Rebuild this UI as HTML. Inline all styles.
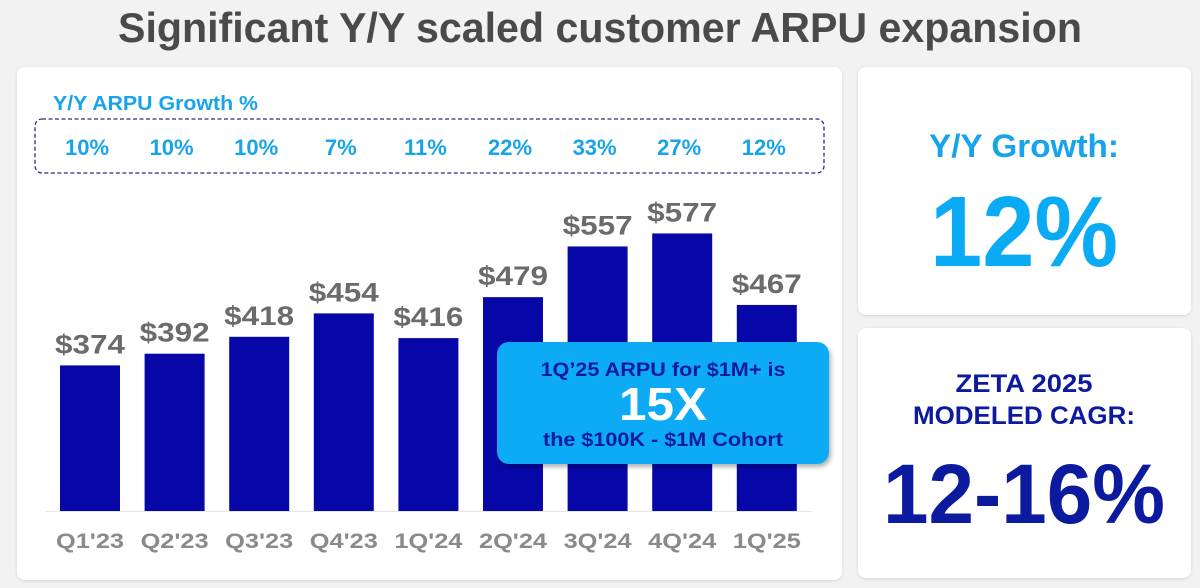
<!DOCTYPE html>
<html><head><meta charset="utf-8"><style>
html,body{margin:0;padding:0;background:#f2f2f2;}
svg{display:block;font-family:"Liberation Sans",sans-serif;font-weight:bold;}
</style></head><body>
<svg width="1200" height="588" viewBox="0 0 1200 588">
<defs>
<filter id="sh" x="-10%" y="-10%" width="130%" height="140%"><feDropShadow dx="2" dy="3" stdDeviation="2" flood-color="#000" flood-opacity="0.3"/></filter>
<filter id="cs" x="-5%" y="-5%" width="110%" height="110%"><feDropShadow dx="0" dy="1" stdDeviation="1.5" flood-color="#000" flood-opacity="0.12"/></filter>
</defs>
<rect width="1200" height="588" fill="#f2f2f2"/>
<text x="600" y="42" text-anchor="middle" font-size="42" fill="#4a4a4a" textLength="964" lengthAdjust="spacingAndGlyphs">Significant Y/Y scaled customer ARPU expansion</text>
<rect x="17" y="67" width="825" height="513" rx="8" fill="#fff" filter="url(#cs)"/>
<rect x="858" y="67" width="333" height="248" rx="8" fill="#fff" filter="url(#cs)"/>
<rect x="858" y="328" width="333" height="250" rx="8" fill="#fff" filter="url(#cs)"/>
<text x="53" y="110" font-size="20" fill="#18a4ea" textLength="205" lengthAdjust="spacingAndGlyphs">Y/Y ARPU Growth %</text>
<rect x="35" y="119" width="789" height="54" rx="7" fill="none" stroke="#2b2b86" stroke-width="1.3" stroke-dasharray="4,2.5"/>
<g id="chart"></g>
<g>
<rect x="497" y="342" width="332" height="122" rx="12" fill="#0aabf5" filter="url(#sh)"/>
<text x="663" y="376" text-anchor="middle" font-size="19" fill="#0b1a9e" textLength="245" lengthAdjust="spacingAndGlyphs">1Q’25 ARPU for $1M+ is</text>
<text x="663" y="420" text-anchor="middle" font-size="46" fill="#fff" textLength="88" lengthAdjust="spacingAndGlyphs">15X</text>
<text x="663" y="446" text-anchor="middle" font-size="19" fill="#0b1a9e" textLength="240" lengthAdjust="spacingAndGlyphs">the $100K - $1M Cohort</text>
</g>
<text x="1024" y="157" text-anchor="middle" font-size="32" fill="#18a4ea" textLength="190" lengthAdjust="spacingAndGlyphs">Y/Y Growth:</text>
<text x="1024" y="266" text-anchor="middle" font-size="100" fill="#0aabf5" textLength="188" lengthAdjust="spacingAndGlyphs">12%</text>
<text x="1024" y="392" text-anchor="middle" font-size="25" fill="#0b1a9e" textLength="137" lengthAdjust="spacingAndGlyphs">ZETA 2025</text>
<text x="1024" y="424" text-anchor="middle" font-size="25" fill="#0b1a9e" textLength="222" lengthAdjust="spacingAndGlyphs">MODELED CAGR:</text>
<text x="1024" y="523" text-anchor="middle" font-size="84" fill="#0b1a9e" textLength="282" lengthAdjust="spacingAndGlyphs">12-16%</text>
</svg>
<script>
const categories=["Q1'23","Q2'23","Q3'23","Q4'23","1Q'24","2Q'24","3Q'24","4Q'24","1Q'25"];
const arpuValues=[374,392,418,454,416,479,557,577,467];
const growthLabels=["10%","10%","10%","7%","11%","22%","33%","27%","12%"];
const NS="http://www.w3.org/2000/svg";
const g=document.getElementById('chart');
const base=511, x0=90, step=84.6, bw=60;
function xPos(i){return x0+i*step;}
function yPos(v){return base-(v-150)*0.65;}
function mk(tag,attrs){const e=document.createElementNS(NS,tag);for(const k in attrs)e.setAttribute(k,attrs[k]);return e;}
const axis=mk('line',{x1:45,x2:812,y1:base+0.5,y2:base+0.5,stroke:'#e6e6e6','stroke-width':1});


g.appendChild(axis);
categories.forEach((c,i)=>{
  const v=arpuValues[i],x=xPos(i),y=yPos(v);
  const r=mk('rect',{x:x-bw/2,y:y,width:bw,height:base-y,fill:'#0707a8'});
  
  
  g.appendChild(r);
  const t=mk('text',{x:x,y:y-12,'text-anchor':'middle','font-size':27,fill:'#6b6b6b',textLength:70,lengthAdjust:'spacingAndGlyphs'});
  t.textContent='$'+v;
  
  
  g.appendChild(t);
  const l=mk('text',{x:x,y:548,'text-anchor':'middle','font-size':21,fill:'#8a8a8a',textLength:68,lengthAdjust:'spacingAndGlyphs'});
  l.textContent=c;
  
  
  g.appendChild(l);
  const gr=mk('text',{x:x-3,y:155,'text-anchor':'middle','font-size':22,fill:'#18a4ea'});
  gr.textContent=growthLabels[i];
  
  
  g.appendChild(gr);
});
</script>
</body></html>
